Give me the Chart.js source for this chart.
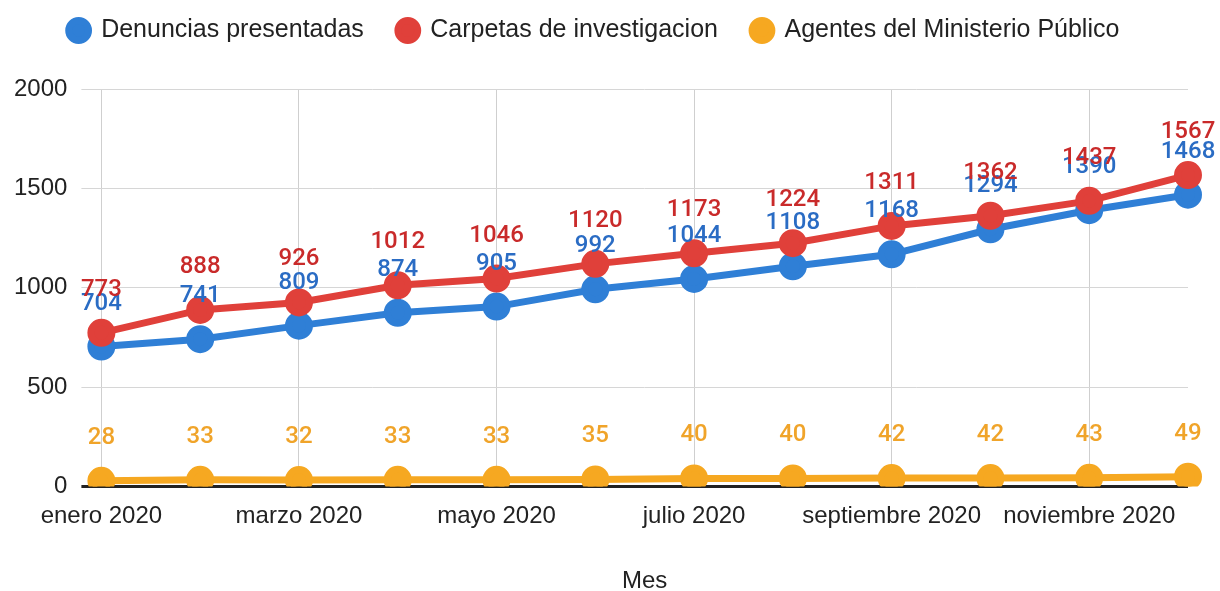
<!DOCTYPE html>
<html>
<head>
<meta charset="utf-8">
<script src="https://cdn.jsdelivr.net/npm/chart.js@4.4.1/dist/chart.umd.min.js"></script>
<style>
  html, body { margin: 0; padding: 0; background: #fff; }
  #wrap { width: 1220px; height: 591px; }
</style>
</head>
<body>
<div id="wrap"><canvas id="canvas" width="1220" height="591"></canvas></div>
<script>
const months = ['enero 2020', 'febrero 2020', 'marzo 2020', 'abril 2020', 'mayo 2020', 'junio 2020',
  'julio 2020', 'agosto 2020', 'septiembre 2020', 'octubre 2020', 'noviembre 2020', 'diciembre 2020'];

const denuncias = [704, 741, 809, 874, 905, 992, 1044, 1108, 1168, 1294, 1390, 1468];
const carpetas = [773, 888, 926, 1012, 1046, 1120, 1173, 1224, 1311, 1362, 1437, 1567];
const agentes = [28, 33, 32, 33, 33, 35, 40, 40, 42, 42, 43, 49];

const yTicks = [0, 500, 1000, 1500, 2000];

const fontFamily = '"Liberation Sans", Arial, sans-serif';

// etiquetas de valor encima de cada punto
const valueLabels = {
  id: 'valueLabels',
  afterDatasetsDraw(chart) {
    const ctx = chart.ctx;
    ctx.save();
    ctx.textAlign = 'center';
    ctx.textBaseline = 'alphabetic';
    ctx.font = '500 24px Roboto, sans-serif';
    chart.data.datasets.forEach((ds, i) => {
      const meta = chart.getDatasetMeta(i);
      ctx.fillStyle = ds.labelColor;
      meta.data.forEach((pt, j) => {
        ctx.fillText(ds.data[j], pt.x, pt.y - 37);
      });
    });
    ctx.restore();
  }
};

// mas espacio entre la leyenda y el grafico
const legendSpace = {
  id: 'legendSpace',
  beforeInit(chart) {
    const fit = chart.legend.fit;
    chart.legend.fit = function () {
      fit.bind(this)();
      this.height += 36;
    };
  }
};

const ctx = document.getElementById('canvas').getContext('2d');
const chart = new Chart(ctx, {
  type: 'line',
  data: {
    labels: months,
    datasets: [{
      label: 'Denuncias presentadas',
      data: denuncias,
      borderColor: '#2f7fd6',
      backgroundColor: '#2f7fd6',
      labelColor: '#2a6cc4',
      borderWidth: 7,
      pointRadius: 10.5,
      order: 2
    },
    {
      label: 'Carpetas de investigacion',
      data: carpetas,
      borderColor: '#e0403a',
      backgroundColor: '#e0403a',
      labelColor: '#c92a2a',
      borderWidth: 7,
      pointRadius: 10.5,
      order: 1
    },
    {
      label: 'Agentes del Ministerio Público',
      data: agentes,
      borderColor: '#f6a821',
      backgroundColor: '#f6a821',
      labelColor: '#f0a42a',
      borderWidth: 7,
      pointRadius: 10.5,
      order: 3
    }]
  },
  options: {
    responsive: false,
    animation: false,
    layout: { padding: { left: 0, right: 32, top: -16, bottom: -5 } },
    plugins: {
      legend: {
        position: 'top',
        labels: {
          usePointStyle: true,
          pointStyle: 'circle',
          boxWidth: 20,
          boxHeight: 14,
          padding: 34,
          color: '#222',
          font: { family: fontFamily, size: 25 },
          sort: (a, b) => a.datasetIndex - b.datasetIndex
        }
      },
      tooltip: { enabled: false }
    },
    scales: {
      x: {
        offset: false,
        grid: {
          color: (c) => (c.index % 2 === 0 ? '#cfcfcf' : 'rgba(0,0,0,0)'),
          drawTicks: false
        },
        border: { display: false },
        ticks: {
          autoSkip: false,
          maxRotation: 0,
          padding: 16,
          color: '#222',
          font: { family: fontFamily, size: 24 },
          callback: (v, i) => (i % 2 === 0 ? months[i] : '')
        },
        title: {
          display: true,
          text: 'Mes',
          color: '#222',
          font: { family: fontFamily, size: 24 },
          padding: { top: 20, bottom: 0 }
        }
      },
      y: {
        min: 0,
        max: 2000,
        afterBuildTicks: (axis) => { axis.ticks = yTicks.map(v => ({ value: v })); },
        grid: {
          color: (c) => (c.tick && c.tick.value === 0 ? '#222' : '#d6d6d6'),
          lineWidth: (c) => (c.tick && c.tick.value === 0 ? 3 : 1),
          tickLength: 20
        },
        border: { display: false },
        ticks: {
          padding: 14,
          color: '#222',
          font: { family: fontFamily, size: 24 },
          callback: (v) => String(v)
        }
      }
    }
  },
  plugins: [valueLabels, legendSpace]
});
</script>
</body>
</html>
